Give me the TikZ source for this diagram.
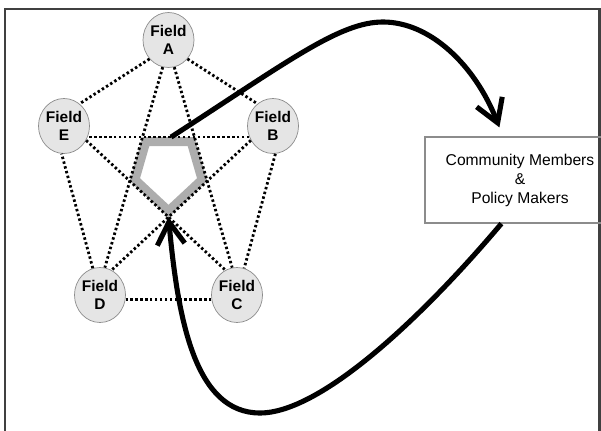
\documentclass[tikz,border=0pt]{standalone}
\usepackage{fontspec}
\setmainfont{Liberation Sans}
\usetikzlibrary{arrows.meta,calc,shapes.geometric}

\begin{document}
\begin{tikzpicture}[x=0.02cm,y=-0.02cm,
    field/.style={ellipse,draw=black!45,fill=black!10,minimum width=0.88cm,minimum height=1.1cm,
      inner sep=0pt,align=center,font=\fontsize{8.8}{10}\selectfont\bfseries},
    edge/.style={line width=1.6pt,dash pattern=on 1.4pt off 1.4pt},
    flow/.style={line width=2.9pt,-{Straight Barb[length=4.5mm,width=5.5mm]}}]
  \useasboundingbox (0,0) rectangle (601,431);
  \clip (0,0) rectangle (601,431);

  %Rahmen
  \draw[black!75,line width=1.2pt] (5,9) rectangle (599.5,460);

  %Kasten rechts
  \node[draw=black!45,line width=0.7pt,minimum width=3.8cm,minimum height=1.72cm,align=center,
    font=\fontsize{8.9}{10.8}\selectfont] (cm) at (520,180) {Community Members\\\&\\Policy Makers};

  %Felder
  \node[field] (A) at (168.5,40) {Field\\A};
  \node[field] (B) at (273,126) {Field\\B};
  \node[field] (C) at (237,295) {Field\\C};
  \node[field] (D) at (100,295) {Field\\D};
  \node[field] (E) at (64,126) {Field\\E};

  %Fuenfeck in der Mitte
  \coordinate (p1) at (intersection of A.258--D.80 and E.335--B.205);
  \coordinate (p2) at (intersection of A.282--C.100 and E.335--B.205);
  \coordinate (p3) at (intersection of A.282--C.100 and B.213--D.65);
  \coordinate (p4) at (intersection of B.213--D.65 and E.327--C.115);
  \coordinate (p5) at (intersection of A.258--D.80 and E.327--C.115);
  \begin{scope}
    \clip (p1) -- (p2) -- (p3) -- (p4) -- (p5) -- cycle;
    \draw[black!32,line width=0.36cm] (p1) -- (p2) -- (p3) -- (p4) -- (p5) -- cycle;
  \end{scope}

  \foreach \a/\b in {A.225/E.55, A.315/B.125, B.275/C.75, C.190/D.350, D.105/E.265,
                     A.258/D.80, A.282/C.100, B.205/E.335, B.213/D.65, E.327/C.115}
    \draw[edge] (\a) -- (\b);

  %Pfeile
  \coordinate (ptop) at ($(p1)!0.55!(p2)$);
  \coordinate (tipA) at ($(cm.north west)+(75,-9)$);
  \coordinate (outB) at ($(cm.south west)+(77,0)$);
  \draw[flow] (ptop) .. controls (290,60) and (340,22) .. (383,22)
    .. controls (430,22) and (475,65) .. (tipA);
  \draw[flow] (outB) .. controls (420,320) and (320,413) .. (260,413)
    .. controls (195,413) and (178,320) .. (p4);
\end{tikzpicture}
\end{document}
